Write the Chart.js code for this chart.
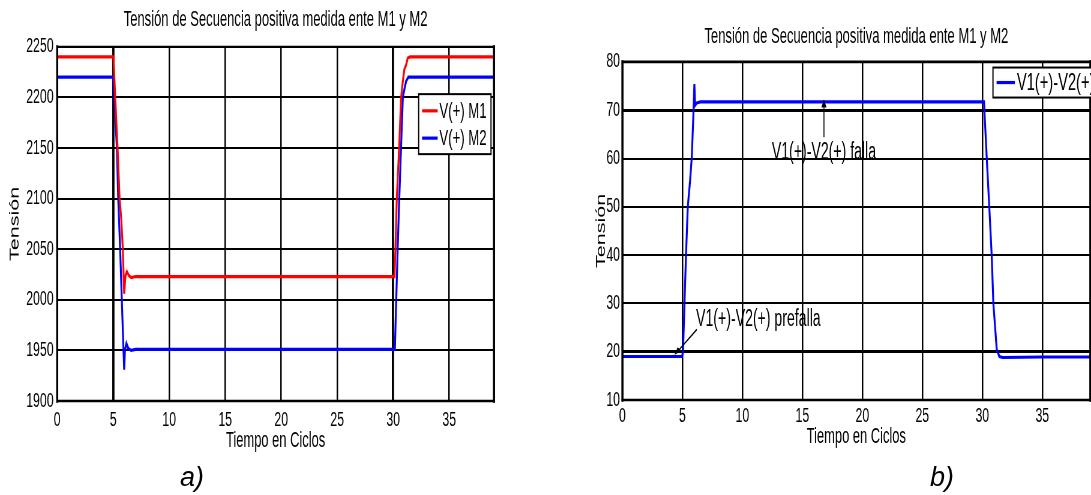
<!DOCTYPE html>
<html lang="es">
<head>
<meta charset="utf-8">
<title>Tensión de Secuencia positiva medida ente M1 y M2</title>
<script src="https://cdn.jsdelivr.net/npm/chart.js@4.4.1/dist/chart.umd.min.js"></script>
<style>
  html, body { margin: 0; padding: 0; background: #fff; }
  body { width: 1091px; height: 495px; overflow: hidden; position: relative;
         font-family: "Liberation Sans", Arial, Helvetica, sans-serif; }
  canvas { position: absolute; top: 0; }
  .sub { position: absolute; top: 462px; font-style: italic; font-size: 27px;
         line-height: 30px; color: #000; }
</style>
</head>
<body>
<!-- canvases are drawn wide and shown narrower, giving the condensed figure look -->
<canvas id="graficoA" width="910" height="495" style="left:0px;width:546px;height:495px"></canvas>
<canvas id="graficoB" width="935" height="495" style="left:560px;width:561px;height:495px"></canvas>
<div class="sub" style="left:180px">a)</div>
<div class="sub" style="left:930px">b)</div>
<script>
// ---- data ----
const tituloGrafico = 'Tensión de Secuencia positiva medida ente M1 y M2';
const tituloX = 'Tiempo en Ciclos';
const tituloY = 'Tensión';

// a) positive-sequence voltage at M1 and M2
const tiempoM1  = [0, 5.02, 5.18, 5.39, 5.57, 5.72, 5.86, 5.98, 6.1, 6.22, 6.4, 6.6, 7, 30.12, 30.2, 30.32, 30.53, 30.71, 30.85, 31.0, 31.15, 31.3, 31.5, 39];
const tensionM1 = [2240, 2240, 2200, 2150, 2100, 2080, 2050, 2006, 2024, 2028, 2024, 2022, 2023, 2023, 2050, 2100, 2150, 2200, 2215, 2228, 2232, 2239, 2240, 2240];
const tiempoM2  = [0, 5.02, 5.1, 5.33, 5.45, 5.62, 5.77, 5.92, 5.98, 6.05, 6.18, 6.35, 6.6, 7, 30.15, 30.27, 30.4, 30.54, 30.7, 30.86, 31.0, 31.15, 31.35, 39];
const tensionM2 = [2220, 2220, 2200, 2150, 2100, 2050, 2000, 1950, 1931, 1950, 1957, 1952, 1950, 1951, 1951, 2000, 2050, 2100, 2150, 2200, 2208, 2216, 2220, 2220];

// b) difference V1(+) - V2(+)
const tiempoDif  = [0, 4.97, 5.05, 5.3, 5.45, 5.64, 5.78, 5.9, 6.0, 6.06, 6.2, 6.5, 30.14, 30.37, 30.58, 30.78, 30.92, 31.2, 31.42, 31.7, 35, 39];
const tensionDif = [19, 19, 20, 40, 50, 55.4, 60.2, 68, 75.4, 71, 71.5, 71.7, 71.7, 60, 50, 40, 30, 20.5, 19, 18.8, 18.9, 18.9];

// annotations of chart b): text, text anchor, arrow [x0, y0, x1, y1]
const textoFalla = 'V1(+)-V2(+) falla';
const posFalla = [16.8, 61.2];
const flechaFalla = [16.8, 64.4, 16.8, 72.2];
const textoPrefalla = 'V1(+)-V2(+) prefalla';
const posPrefalla = [6.14, 26.7];
const flechaPrefalla = [6.2, 24.6, 4.33, 19.3];

// axis ranges and steps
const rangoX = [0, 39], pasoX = 5;
const rangoYA = [1900, 2250], pasoYA = 50;
const rangoYB = [10, 80], pasoYB = 10;

// ---- drawing ----
const SX = 0.6; // displayed width / canvas width
const fuente = '"Liberation Sans", Arial, Helvetica, sans-serif';
Chart.defaults.font.family = fuente;
Chart.defaults.color = '#000';

const puntos = (xs, ys) => xs.map((t, i) => ({ x: t, y: ys[i] }));

// arrow whose head keeps its shape after the horizontal squeeze
function flecha(ctx, x0, y0, x1, y1) {
  const dx = (x1 - x0) * SX, dy = y1 - y0;
  const len = Math.hypot(dx, dy), ux = dx / len, uy = dy / len;
  const L = 8, W = 2.6;
  const bx = x1 * SX - ux * L, by = y1 - uy * L;
  ctx.beginPath(); ctx.moveTo(x0, y0); ctx.lineTo(bx / SX, by); ctx.stroke();
  ctx.beginPath();
  ctx.moveTo(x1, y1);
  ctx.lineTo((bx - uy * W) / SX, by + ux * W);
  ctx.lineTo((bx + uy * W) / SX, by - ux * W);
  ctx.closePath(); ctx.fill();
}

const marco = {
  id: 'marco',
  afterDatasetsDraw(chart, args, o) {
    const { ctx, chartArea: a } = chart;
    ctx.save();
    ctx.strokeStyle = '#000';
    ctx.lineCap = 'square';
    ctx.lineWidth = o.h;
    ctx.beginPath();
    ctx.moveTo(a.left, a.top); ctx.lineTo(a.right, a.top);
    ctx.moveTo(a.left, a.bottom); ctx.lineTo(a.right, a.bottom);
    ctx.stroke();
    ctx.lineWidth = o.v;
    ctx.beginPath();
    ctx.moveTo(a.left, a.top); ctx.lineTo(a.left, a.bottom);
    ctx.moveTo(a.right, a.top); ctx.lineTo(a.right, a.bottom);
    ctx.stroke();
    ctx.restore();
  }
};

const leyenda = {
  id: 'leyenda',
  afterDraw(chart, args, o) {
    const { ctx, chartArea: a } = chart;
    const ds = chart.data.datasets;
    ctx.save();
    ctx.font = o.size + 'px ' + fuente;
    const tw = Math.max(...ds.map(d => ctx.measureText(d.label).width));
    const w = o.padL + o.sample + o.gap + tw + o.padR;
    const h = o.padT + (ds.length - 1) * o.row + o.padB;
    const x = o.anchor === 'right' ? a.right + o.dx - w : a.right + o.dx;
    const y = a.top + o.dy;
    ctx.fillStyle = '#fff';
    ctx.fillRect(x, y, w, h);
    ctx.strokeStyle = '#000';
    ctx.lineWidth = 2;
    ctx.strokeRect(x, y, w, h);
    ds.forEach((d, i) => {
      const cy = y + o.padT + i * o.row;
      ctx.strokeStyle = d.borderColor;
      ctx.lineWidth = d.borderWidth;
      ctx.beginPath();
      ctx.moveTo(x + o.padL, cy); ctx.lineTo(x + o.padL + o.sample, cy);
      ctx.stroke();
      ctx.fillStyle = '#000';
      ctx.textAlign = 'left';
      ctx.textBaseline = 'middle';
      ctx.fillText(d.label, x + o.padL + o.sample + o.gap, cy + 1);
    });
    ctx.restore();
  }
};

const notas = {
  id: 'notas',
  afterDatasetsDraw(chart, args, o) {
    const { ctx, scales: { x, y } } = chart;
    ctx.save();
    ctx.fillStyle = '#000';
    ctx.strokeStyle = '#000';
    ctx.lineWidth = 1.6;
    ctx.font = o.size + 'px ' + fuente;
    ctx.textBaseline = 'middle';
    o.items.forEach(n => {
      ctx.textAlign = n.align;
      ctx.fillText(n.texto, x.getPixelForValue(n.pos[0]), y.getPixelForValue(n.pos[1]));
      const f = n.flecha;
      flecha(ctx, x.getPixelForValue(f[0]), y.getPixelForValue(f[1]),
                  x.getPixelForValue(f[2]), y.getPixelForValue(f[3]));
    });
    ctx.restore();
  }
};

function opciones(c) {
  return {
    responsive: false,
    maintainAspectRatio: false,
    animation: false,
    devicePixelRatio: 1,
    events: [],
    layout: { padding: { left: 0, top: 0, right: c.padR, bottom: 0 } },
    plugins: {
      legend: { display: false },
      tooltip: { enabled: false },
      title: {
        display: true, text: tituloGrafico, fullSize: false, color: '#000',
        font: { size: 21.7, weight: 'normal', lineHeight: 1.2 },
        padding: { top: c.tT, bottom: c.tB }
      },
      marco: c.marco,
      leyenda: c.leyenda,
      notas: c.notas
    },
    scales: {
      x: {
        type: 'linear', min: rangoX[0], max: rangoX[1],
        ticks: { stepSize: pasoX, includeBounds: false, autoSkip: false, maxRotation: 0,
                 padding: c.xPad, font: { size: 20.5, lineHeight: 1.2 }, color: '#000',
                 callback: v => String(v) },
        grid: { color: '#000', lineWidth: c.xGrid, drawTicks: false },
        border: { display: false },
        title: { display: true, text: tituloX, color: '#000',
                 font: { size: 21.5, lineHeight: 1.2 }, padding: { top: 0, bottom: c.xtPad } },
        afterFit: s => { s.height = c.xH; }
      },
      y: {
        type: 'linear', min: c.rangoY[0], max: c.rangoY[1],
        ticks: { stepSize: c.pasoY, includeBounds: false, autoSkip: false,
                 padding: c.yPad, font: { size: 20.5, lineHeight: 1.2 }, color: '#000',
                 callback: v => String(v) },
        grid: { color: '#000', lineWidth: c.yGrid, drawTicks: false },
        border: { display: false },
        title: { display: true, text: tituloY, color: '#000',
                 font: { size: 21.5, lineHeight: 1.2 }, padding: { top: c.ytPad, bottom: 0 } },
        afterFit: s => { s.width = c.yW; }
      }
    }
  };
}

const linea = (label, xs, ys, color) => ({
  label, data: puntos(xs, ys), borderColor: color, backgroundColor: color,
  borderWidth: 3.2, pointRadius: 0, tension: 0, fill: false
});

new Chart(document.getElementById('graficoA'), {
  type: 'line',
  data: { datasets: [
    linea('V(+) M1', tiempoM1, tensionM1, '#ff0000'),
    linea('V(+) M2', tiempoM2, tensionM2, '#0000ff')
  ] },
  options: opciones({
    padR: 86.7, tT: 7.4, tB: 13.4,
    rangoY: rangoYA, pasoY: pasoYA,
    yW: 95.3, yPad: 6, ytPad: 12.4,
    xH: 94, xPad: 7, xtPad: 41,
    yGrid: 2,
    xGrid: ctx => (ctx.tick && (ctx.tick.value === 5 || ctx.tick.value === 30)) ? 3.8 : 2.5,
    marco: { h: 2.4, v: 3.4 },
    leyenda: { anchor: 'right', dx: -5, dy: 47.3, size: 22, padL: 5.7, sample: 26, gap: 2.8,
               padR: 7.2, padT: 16.7, row: 27.3, padB: 16 }
  }),
  plugins: [marco, leyenda]
});

new Chart(document.getElementById('graficoB'), {
  type: 'line',
  data: { datasets: [
    linea('V1(+)-V2(+)', tiempoDif, tensionDif, '#0000ff')
  ] },
  options: opciones({
    padR: 51.2, tT: 24.1, tB: 11.7,
    rangoY: rangoYB, pasoY: pasoYB,
    yW: 104, yPad: 4, ytPad: 55.7,
    xH: 95, xPad: 4.5, xtPad: 45.5,
    yGrid: ctx => (ctx.tick && (ctx.tick.value === 20 || ctx.tick.value === 70)) ? 3 : 1.9,
    xGrid: 2.5,
    marco: { h: 2.6, v: 3.4 },
    leyenda: { anchor: 'left', dx: -162.2, dy: 5.7, size: 24.5, padL: 6, sample: 30.5, gap: 3.3,
               padR: 10, padT: 15, row: 0, padB: 15 },
    notas: { size: 23.5, items: [
      { texto: textoFalla, pos: posFalla, align: 'center', flecha: flechaFalla },
      { texto: textoPrefalla, pos: posPrefalla, align: 'left', flecha: flechaPrefalla }
    ] }
  }),
  plugins: [marco, leyenda, notas]
});
</script>
</body>
</html>
